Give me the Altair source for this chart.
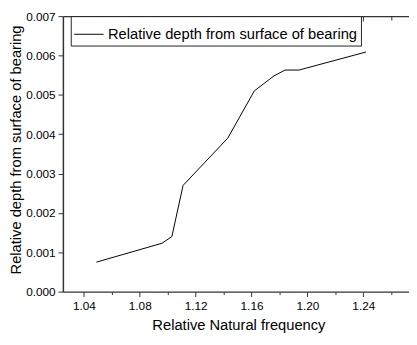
import altair as alt
import pandas as pd

freq = [1.049, 1.096, 1.103, 1.111, 1.143, 1.162, 1.176, 1.184, 1.194, 1.242]
depth = [0.00075, 0.00123, 0.00140, 0.00270, 0.00390, 0.00510, 0.00548, 0.00563, 0.00563, 0.00609]
series_name = "Relative depth from surface of bearing"
x_tick_values = [1.04, 1.06, 1.08, 1.10, 1.12, 1.14, 1.16, 1.18, 1.20, 1.22, 1.24, 1.26]
y_tick_values = [0.0, 0.0005, 0.001, 0.0015, 0.002, 0.0025, 0.003, 0.0035,
                 0.004, 0.0045, 0.005, 0.0055, 0.006, 0.0065, 0.007]

df = pd.DataFrame({"freq": freq, "depth": depth, "series": [series_name] * len(freq)})

FONT = "Liberation Sans"
W, H = 353, 281

x_scale = alt.Scale(domain=[1.025, 1.2727], nice=False, zero=False)
y_scale = alt.Scale(domain=[0, 0.007], nice=False)

x_major = "round(datum.value*100) % 4 == 0"
y_major = "round(datum.value*10000) % 10 == 0"

bottom_axis = alt.Axis(
    orient="bottom", values=x_tick_values,
    labelExpr=f"({x_major}) ? format(datum.value, '.2f') : ''",
    tickSize={"condition": {"test": x_major, "value": 5}, "value": 3},
    grid=False, domainColor="#333", domainWidth=1.5, tickColor="#333", tickWidth=1,
    labelFont=FONT, labelFontSize=12, labelColor="black", labelPadding=4,
    titleFont=FONT, titleFontSize=15, titleFontWeight="normal", titleColor="black",
    titlePadding=7, title="Relative Natural frequency", titleX=179,
)
top_axis = alt.Axis(
    orient="bottom", offset=-H, values=x_tick_values, labels=False, title=None,
    tickSize={"condition": {"test": x_major, "value": 5}, "value": 4},
    grid=False, domainColor="#333", domainWidth=1.5, tickColor="#333", tickWidth=1,
)
left_axis = alt.Axis(
    orient="left", values=y_tick_values,
    labelExpr=f"({y_major}) ? format(datum.value, '.3f') : ''",
    tickSize={"condition": {"test": y_major, "value": 5}, "value": 3},
    grid=False, domainColor="#333", domainWidth=1.5, tickColor="#333", tickWidth=1,
    labelFont=FONT, labelFontSize=12, labelColor="black", labelPadding=3,
    titleFont=FONT, titleFontSize=15, titleFontWeight="normal", titleColor="black",
    titlePadding=2, titleY=136, title="Relative depth from surface of bearing",
)

base = alt.Chart(df)

line = base.mark_line(strokeWidth=1).encode(
    x=alt.X("freq:Q", scale=x_scale, axis=bottom_axis),
    y=alt.Y("depth:Q", scale=y_scale, axis=left_axis),
    color=alt.Color(
        "series:N", scale=alt.Scale(range=["black"]),
        legend=alt.Legend(
            title=None, orient="none", legendX=8, legendY=0,
            symbolType="stroke", symbolSize=900, symbolStrokeWidth=1,
            symbolStrokeColor="black",
            labelFont=FONT, labelFontSize=15, labelColor="black",
            labelLimit=400,
            strokeColor="#222", fillColor="white", padding=3,
            labelOffset=4,
        ),
    ),
)

top = base.mark_line(opacity=0).encode(
    x=alt.X("freq:Q", scale=x_scale, axis=top_axis),
    y=alt.Y("depth:Q", scale=y_scale),
)

chart = alt.layer(line, top).resolve_axis(x="independent").properties(
    width=W, height=H,
    autosize=alt.AutoSizeParams(type="none"),
    padding={"left": 56, "top": 5, "right": 0, "bottom": 45},
).configure_view(stroke=None)

chart.save("out.html", embed_options={"renderer": "svg", "actions": False})
